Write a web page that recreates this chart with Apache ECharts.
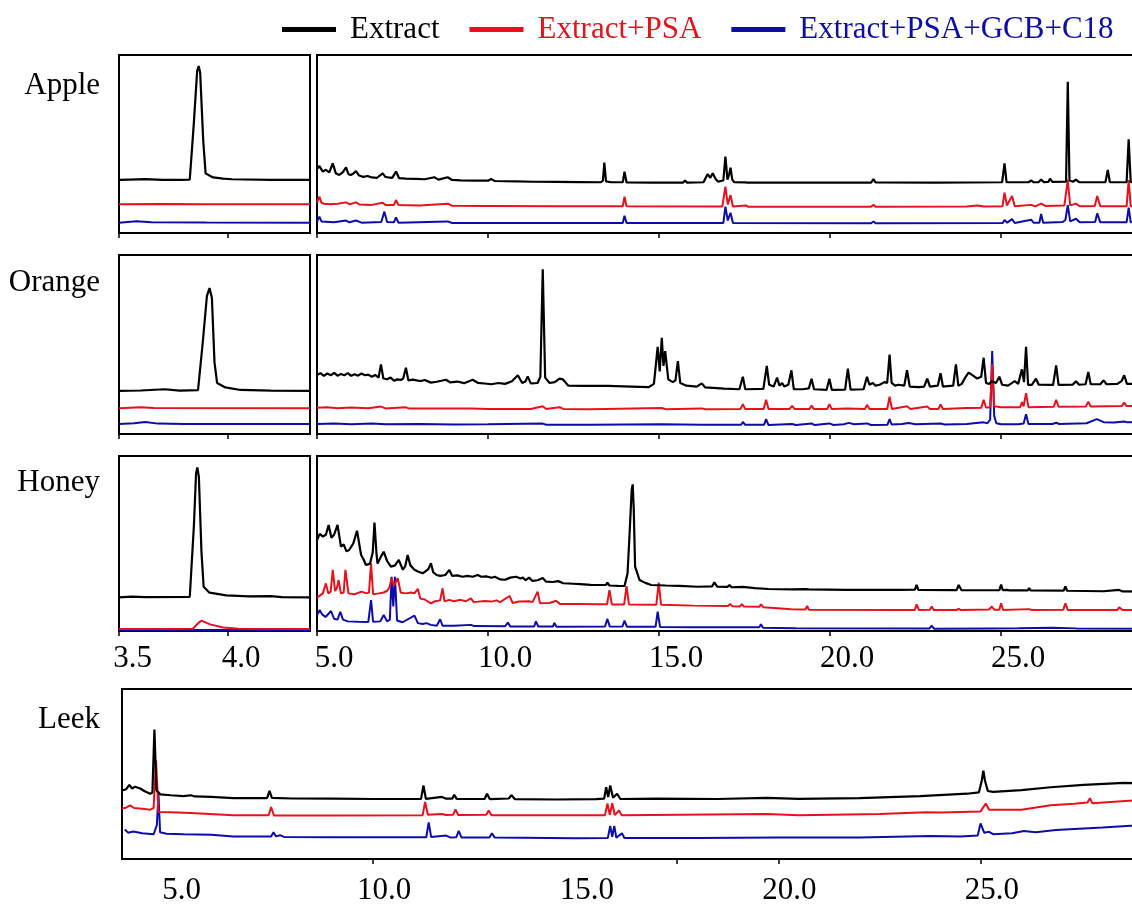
<!DOCTYPE html>
<html>
<head>
<meta charset="utf-8">
<script src="https://cdn.jsdelivr.net/npm/echarts@6/dist/echarts.min.js"></script>
<style>
html,body{margin:0;padding:0;background:#fff;overflow:hidden;}
#chart{width:1170px;height:906px;}
</style>
</head>
<body>
<div id="chart"></div>
<script>
// ---------- names / ticks ----------
const seriesNames = ['Extract', 'Extract+PSA', 'Extract+PSA+GCB+C18'];
const sampleNames = ['Apple', 'Orange', 'Honey', 'Leek'];
const leftTickValues = [3.5, 4.0];
const mainTickValues = [5, 10, 15, 20, 25];
const leekLabelValues = [5, 10, 15, 20, 25];
const leekTickValues = [10, 17.5, 20, 25];

// ---------- Apple ----------
const appleLeftExtract = [[3.5,29.8],[3.55,30.0],[3.62,30.3],[3.7,29.9],[3.78,29.9],[3.826,30.0],[3.845,62],[3.860,91],[3.867,93.8],[3.874,90],[3.888,52],[3.899,33.5],[3.933,31.2],[3.98,30.5],[4.02,30.2],[4.2,29.9],[4.38,29.8]];
const appleLeftPSA = [[3.5,16.1],[3.7,16.3],[3.9,16.1],[4.38,16.1]];
const appleLeftGCB = [[3.5,5.8],[3.58,6.6],[3.65,6.0],[3.9,5.9],[4.38,5.8]];

const appleMainExtract = [[5.0,36.0],[5.07,37.6],[5.17,34.5],[5.26,35.5],[5.36,34.0],[5.46,39.1],[5.55,33.5],[5.65,32.6],[5.75,34.0],[5.85,36.9],[5.92,33.0],[5.99,32.6],[6.07,33.5],[6.14,34.8],[6.22,32.5],[6.35,31.5],[6.48,32.0],[6.6,31.2],[6.75,31.0],[6.92,33.5],[7.0,31.5],[7.07,31.3],[7.2,31.0],[7.31,34.5],[7.4,30.8],[7.6,30.6],[7.9,30.4],[8.15,30.2],[8.43,31.3],[8.55,30.0],[8.82,31.3],[8.95,29.8],[9.2,29.6],[9.6,29.4],[10.0,29.4],[10.09,30.3],[10.2,29.2],[10.8,29.0],[11.35,28.8],[12.0,28.7],[12.7,28.6],[13.3,28.5],[13.36,29.5],[13.40,39.5],[13.45,29.0],[13.6,28.5],[13.94,28.5],[13.99,34.4],[14.05,28.4],[14.8,28.3],[15.7,28.3],[15.76,29.5],[15.82,28.3],[16.3,28.5],[16.42,33.1],[16.5,31.0],[16.57,33.6],[16.65,30.5],[16.72,28.9],[16.88,29.5],[16.94,42.9],[17.0,30.0],[17.05,33.0],[17.09,36.7],[17.14,30.0],[17.20,28.5],[17.5,28.4],[17.54,29.5],[17.6,28.3],[19.6,28.3],[19.64,29.2],[19.7,28.3],[21.2,28.3],[21.27,30.3],[21.33,28.4],[23.0,28.3],[23.05,29.2],[23.1,28.3],[25.03,28.5],[25.10,39.1],[25.16,28.5],[25.8,28.5],[25.88,29.5],[25.95,28.5],[26.1,28.6],[26.17,30.0],[26.25,28.6],[26.38,28.7],[26.43,30.5],[26.5,28.7],[26.9,28.8],[26.95,85.0],[27.0,29.5],[27.1,28.8],[27.19,30.0],[27.28,28.6],[28.05,28.5],[28.12,35.4],[28.18,28.5],[28.67,28.6],[28.73,52.6],[28.79,28.6],[29.5,28.4]];
const appleMainPSA = [[5.0,17.0],[5.07,20.4],[5.13,17.0],[5.2,16.5],[5.4,16.2],[5.6,16.4],[5.85,17.2],[5.95,16.2],[6.14,17.2],[6.25,16.0],[6.6,15.8],[6.92,17.0],[7.0,15.8],[7.25,15.8],[7.31,18.5],[7.38,15.8],[8.0,15.5],[8.82,16.5],[8.95,15.3],[10.0,15.2],[12.0,15.0],[13.94,15.0],[13.99,20.4],[14.05,15.0],[16.85,14.9],[16.94,26.0],[17.01,16.0],[17.09,21.3],[17.16,14.9],[17.54,15.5],[17.6,14.8],[21.2,14.8],[21.27,15.8],[21.33,14.8],[24.0,14.9],[24.3,15.5],[24.5,14.9],[25.04,15.0],[25.10,22.7],[25.17,15.5],[25.32,20.8],[25.40,15.0],[25.88,15.8],[26.0,15.0],[26.17,16.5],[26.3,15.2],[26.85,15.5],[26.95,29.8],[27.02,15.5],[27.19,16.5],[27.3,15.0],[27.74,15.2],[27.81,20.8],[27.9,15.0],[28.67,15.0],[28.73,29.8],[28.79,15.0],[29.5,14.8]];
const appleMainGCB = [[5.0,6.5],[5.07,9.2],[5.13,6.5],[5.5,6.0],[5.85,7.0],[5.95,6.0],[6.14,7.0],[6.3,5.8],[6.88,6.2],[6.97,12.0],[7.05,6.2],[7.25,6.0],[7.31,8.8],[7.38,5.8],[8.82,6.5],[8.95,5.6],[13.94,5.6],[13.99,9.7],[14.05,5.6],[16.88,5.6],[16.94,14.8],[17.01,7.0],[17.09,11.4],[17.16,5.6],[21.2,5.5],[21.27,6.5],[21.33,5.5],[25.05,5.6],[25.10,7.3],[25.18,5.8],[25.32,7.8],[25.40,5.6],[25.88,7.5],[25.95,5.8],[26.12,5.8],[26.17,10.7],[26.23,5.8],[26.8,6.2],[26.88,7.3],[26.95,15.7],[27.02,6.5],[27.19,8.0],[27.3,6.0],[27.75,6.2],[27.81,11.0],[27.9,6.0],[28.67,6.0],[28.73,14.2],[28.79,6.0],[29.5,5.6]];

// ---------- Orange ----------
const orangeLeftExtract = [[3.5,24.1],[3.6,24.3],[3.71,25.0],[3.78,24.2],[3.864,24.5],[3.885,50],[3.905,77],[3.917,81.5],[3.928,76],[3.94,40],[3.952,28.5],[3.99,26.0],[4.06,24.6],[4.2,24.2],[4.38,24.1]];
const orangeLeftPSA = [[3.5,14.4],[3.6,15.0],[3.66,14.5],[4.38,14.4]];
const orangeLeftGCB = [[3.5,5.6],[3.57,6.0],[3.62,6.7],[3.68,5.8],[3.8,5.6],[4.38,5.6]];

const orangeMainExtract = [[5.0,33.0],[5.1,34.0],[5.2,32.5],[5.3,33.8],[5.4,32.8],[5.5,34.2],[5.6,32.6],[5.7,33.5],[5.8,32.8],[5.9,34.0],[6.0,32.5],[6.1,33.4],[6.2,32.6],[6.3,33.8],[6.4,32.8],[6.5,33.2],[6.6,32.0],[6.7,33.0],[6.8,31.5],[6.87,38.9],[6.94,31.0],[7.05,30.6],[7.15,31.5],[7.25,29.8],[7.35,30.5],[7.45,30.2],[7.52,31.0],[7.60,37.0],[7.67,30.0],[7.8,30.4],[7.95,29.8],[8.04,29.6],[8.15,30.2],[8.33,28.7],[8.5,29.2],[8.77,30.3],[8.9,28.8],[9.1,29.3],[9.3,28.4],[9.55,30.3],[9.7,28.6],[9.9,28.2],[10.1,27.8],[10.3,28.5],[10.5,28.0],[10.7,29.5],[10.87,32.8],[11.0,28.5],[11.1,29.5],[11.16,32.2],[11.25,28.3],[11.45,28.5],[11.53,32.0],[11.60,92.0],[11.67,31.5],[11.8,28.5],[11.95,29.0],[12.09,30.9],[12.14,29.8],[12.19,30.5],[12.35,27.0],[12.8,26.9],[13.5,26.9],[14.2,26.5],[14.7,26.2],[14.85,28.0],[14.96,48.7],[15.02,35.0],[15.08,53.7],[15.13,38.0],[15.18,46.3],[15.27,30.5],[15.4,29.0],[15.48,30.0],[15.55,40.7],[15.62,28.5],[15.8,27.0],[16.1,26.5],[16.25,28.3],[16.35,26.0],[16.8,25.5],[16.85,26.5],[16.9,25.3],[17.35,25.0],[17.45,32.0],[17.52,25.0],[18.05,25.2],[18.15,38.0],[18.22,27.5],[18.35,26.5],[18.45,31.5],[18.52,27.0],[18.6,28.5],[18.66,26.5],[18.78,27.5],[18.87,35.6],[18.94,25.0],[19.2,25.0],[19.38,25.5],[19.46,30.9],[19.53,25.0],[19.9,24.7],[19.98,30.9],[20.05,24.7],[20.44,24.8],[20.52,36.5],[20.6,24.8],[20.98,25.0],[21.08,32.0],[21.15,27.5],[21.25,28.5],[21.33,27.0],[21.45,27.5],[21.59,29.0],[21.67,28.5],[21.74,44.4],[21.8,28.5],[21.9,27.0],[22.0,27.5],[22.17,27.0],[22.25,35.6],[22.33,26.5],[22.6,26.2],[22.75,26.5],[22.84,30.9],[22.92,26.5],[23.15,27.0],[23.23,33.9],[23.3,26.5],[23.45,26.8],[23.6,27.0],[23.68,38.9],[23.75,27.0],[23.85,28.0],[23.95,31.5],[24.05,34.3],[24.15,33.0],[24.3,31.0],[24.42,32.0],[24.49,42.6],[24.56,28.5],[24.65,28.0],[24.74,29.5],[24.85,28.5],[24.95,32.0],[25.03,27.5],[25.2,27.0],[25.4,29.5],[25.5,28.0],[25.61,36.1],[25.67,29.0],[25.73,48.7],[25.79,27.5],[25.9,27.5],[26.02,30.9],[26.1,27.5],[26.52,27.4],[26.61,38.3],[26.68,27.4],[27.1,27.6],[27.19,29.5],[27.28,27.5],[27.47,27.8],[27.55,34.6],[27.62,27.8],[27.9,27.8],[28.0,30.0],[28.08,27.8],[28.4,28.0],[28.52,29.5],[28.6,32.8],[28.68,28.0],[29.5,28.0]];
const orangeMainPSA = [[5.0,14.6],[5.3,15.0],[5.6,14.4],[6.0,14.8],[6.5,14.4],[6.87,15.3],[7.0,14.3],[7.6,14.9],[7.7,14.2],[8.5,14.3],[9.5,14.2],[10.0,14.0],[11.25,14.0],[11.6,15.5],[11.7,14.0],[12.09,15.0],[12.2,14.0],[13.0,13.8],[15.08,14.5],[15.2,13.8],[16.25,14.3],[16.35,13.8],[17.38,13.9],[17.45,16.7],[17.52,13.9],[18.06,14.0],[18.13,19.1],[18.2,14.0],[18.82,14.0],[18.89,15.7],[18.96,14.0],[19.40,14.0],[19.46,15.9],[19.52,14.0],[19.92,14.0],[19.98,16.7],[20.05,13.9],[20.5,14.2],[21.02,14.0],[21.08,16.3],[21.15,14.0],[21.67,14.0],[21.74,20.9],[21.81,14.0],[22.25,15.5],[22.35,14.0],[22.84,15.3],[22.92,14.0],[23.17,14.0],[23.23,16.5],[23.3,14.0],[24.0,14.5],[24.05,15.5],[24.15,14.5],[24.42,14.6],[24.49,19.1],[24.56,14.8],[24.68,15.0],[24.74,38.9],[24.80,15.5],[25.0,15.0],[25.56,15.0],[25.61,17.8],[25.66,15.5],[25.73,22.8],[25.8,15.0],[26.54,15.2],[26.61,19.1],[26.68,15.2],[27.48,15.4],[27.55,18.1],[27.62,15.4],[28.53,15.6],[28.60,17.5],[28.67,15.6],[29.5,15.7]];
const orangeMainGCB = [[5.0,5.6],[5.5,5.9],[6.0,5.5],[6.6,5.8],[7.0,5.4],[8.0,5.6],[9.0,5.3],[10.0,5.4],[11.6,5.8],[11.7,5.2],[13.0,5.2],[15.1,5.4],[16.25,5.2],[17.4,5.2],[17.45,6.7],[17.52,5.1],[18.07,5.1],[18.13,8.3],[18.2,5.0],[18.89,5.6],[19.0,5.0],[19.46,5.9],[19.55,5.0],[19.98,5.9],[20.1,5.0],[20.4,5.5],[20.55,6.2],[20.7,5.5],[21.08,5.9],[21.2,5.0],[21.68,5.2],[21.74,8.3],[21.8,5.3],[22.1,5.6],[22.3,6.2],[22.5,5.4],[23.23,5.9],[23.35,5.3],[24.0,5.6],[24.2,6.0],[24.49,6.5],[24.6,6.0],[24.68,8.0],[24.74,46.3],[24.80,10.0],[24.86,6.0],[25.0,5.5],[25.5,5.5],[25.66,5.8],[25.73,11.1],[25.8,5.6],[26.5,5.6],[26.61,6.3],[26.7,5.6],[27.5,6.0],[27.8,8.3],[28.0,6.6],[28.3,6.4],[28.6,7.0],[28.7,6.5],[29.5,6.9]];

// ---------- Honey ----------
const honeyLeftExtract = [[3.5,19.2],[3.56,19.6],[3.62,19.4],[3.826,19.5],[3.845,60],[3.855,90],[3.861,93.5],[3.868,88],[3.88,45],[3.89,25.3],[3.917,21.9],[3.994,20.4],[4.1,19.8],[4.2,19.9],[4.25,19.4],[4.38,19.2]];
const honeyLeftPSA = [[3.5,1.1],[3.84,1.3],[3.865,4.5],[3.879,5.9],[3.92,3.8],[3.98,2.0],[4.05,1.3],[4.38,1.1]];
const honeyLeftGCB = [[3.5,0.6],[4.38,0.6]];

const honeyMainExtract = [[5.0,52.0],[5.08,55.5],[5.17,53.9],[5.26,55.0],[5.34,60.6],[5.42,53.3],[5.50,55.0],[5.60,60.6],[5.70,48.2],[5.78,49.5],[5.86,45.5],[5.94,46.3],[6.06,50.0],[6.17,57.3],[6.29,43.4],[6.36,41.0],[6.43,37.7],[6.55,38.5],[6.63,45.0],[6.68,61.9],[6.74,44.0],[6.77,38.5],[6.87,42.5],[6.95,45.3],[7.05,40.0],[7.16,36.8],[7.28,37.5],[7.39,40.6],[7.51,35.0],[7.58,37.0],[7.65,43.4],[7.73,37.5],[7.85,35.0],[7.95,34.0],[8.09,33.0],[8.2,34.5],[8.26,35.5],[8.33,38.7],[8.40,33.5],[8.5,32.0],[8.6,31.5],[8.75,32.0],[8.87,34.9],[8.95,31.5],[9.1,31.8],[9.25,31.0],[9.4,31.5],[9.55,31.0],[9.70,32.0],[9.8,31.0],[9.95,31.2],[10.1,30.4],[10.2,31.0],[10.35,29.5],[10.5,29.3],[10.65,30.5],[10.82,31.0],[10.95,30.0],[11.02,30.5],[11.1,29.0],[11.2,30.5],[11.3,28.6],[11.45,29.0],[11.60,30.3],[11.7,28.2],[11.9,28.0],[12.05,28.5],[12.2,27.3],[12.5,27.0],[12.7,26.8],[13.0,26.4],[13.3,26.3],[13.45,26.4],[13.49,27.6],[13.55,26.0],[13.8,25.8],[13.99,25.7],[14.08,33.0],[14.15,60.0],[14.20,80.6],[14.23,83.8],[14.26,70.0],[14.30,36.8],[14.43,29.1],[14.6,27.5],[14.77,26.3],[15.2,26.0],[15.6,25.8],[16.13,25.3],[16.55,25.5],[16.62,27.8],[16.7,25.3],[17.0,25.2],[17.06,26.3],[17.12,25.0],[17.45,25.2],[17.8,24.5],[18.2,24.0],[18.86,23.8],[19.28,23.9],[19.33,25.0],[19.38,23.8],[20.5,23.5],[22.0,23.5],[22.48,23.6],[22.53,26.3],[22.58,23.5],[23.7,23.4],[23.76,26.3],[23.84,23.4],[24.95,23.3],[25.0,26.5],[25.05,23.3],[25.15,23.5],[25.2,24.5],[25.25,23.2],[25.78,23.2],[25.82,24.5],[25.86,23.2],[26.83,23.1],[26.88,25.5],[26.93,23.0],[28.0,22.7],[28.45,23.5],[28.55,22.6],[29.5,22.5]];
const honeyMainPSA = [[5.0,19.0],[5.17,21.5],[5.26,27.2],[5.33,21.5],[5.40,22.5],[5.46,34.9],[5.53,22.8],[5.58,24.5],[5.63,29.1],[5.70,21.5],[5.78,22.0],[5.83,34.9],[5.92,21.5],[6.1,21.0],[6.3,22.5],[6.45,21.5],[6.52,22.0],[6.58,38.7],[6.64,21.0],[6.8,21.5],[6.95,22.0],[7.05,23.0],[7.12,25.0],[7.18,30.1],[7.25,26.0],[7.30,25.5],[7.36,30.1],[7.45,21.8],[7.6,21.5],[7.75,22.0],[7.85,21.6],[7.95,24.0],[8.02,18.5],[8.15,18.0],[8.33,15.8],[8.45,17.0],[8.6,17.5],[8.67,24.4],[8.73,17.0],[8.87,17.8],[9.0,17.0],[9.2,17.8],[9.35,17.0],[9.50,18.7],[9.58,16.5],[9.9,17.2],[10.1,16.8],[10.25,17.5],[10.35,16.5],[10.63,20.0],[10.72,16.0],[10.9,16.8],[11.2,17.0],[11.3,16.5],[11.45,22.5],[11.52,15.8],[11.8,16.0],[11.99,17.3],[12.1,15.5],[12.6,15.5],[13.2,15.3],[13.48,15.3],[13.55,23.4],[13.62,15.2],[13.98,15.2],[14.05,25.7],[14.12,15.2],[14.92,15.0],[14.99,27.6],[15.06,15.0],[16.0,14.5],[17.02,14.3],[17.08,15.5],[17.14,14.2],[17.36,14.0],[17.42,15.4],[17.48,14.0],[17.93,13.8],[17.98,15.2],[18.05,13.6],[18.86,12.4],[19.28,12.3],[19.33,14.3],[19.38,12.2],[22.0,12.0],[22.48,12.0],[22.53,15.2],[22.6,12.0],[22.92,12.1],[22.97,14.0],[23.03,12.0],[23.7,12.0],[23.76,12.6],[23.82,12.0],[24.65,12.3],[24.73,14.0],[24.8,12.2],[24.95,12.2],[25.0,15.8],[25.06,12.0],[25.82,12.5],[25.9,12.0],[26.82,12.2],[26.88,15.8],[26.95,12.0],[28.4,12.0],[28.45,13.5],[28.55,12.0],[29.5,12.0]];
const honeyMainGCB = [[5.0,9.0],[5.08,12.0],[5.15,9.5],[5.25,8.0],[5.41,11.4],[5.5,7.0],[5.60,6.5],[5.68,11.0],[5.76,6.5],[5.9,5.5],[6.2,5.3],[6.5,5.2],[6.58,17.7],[6.64,5.3],[6.85,5.5],[6.95,9.1],[7.05,5.5],[7.13,6.5],[7.18,31.0],[7.23,14.0],[7.28,31.0],[7.34,6.0],[7.5,5.0],[7.85,8.8],[7.95,4.5],[8.09,4.0],[8.2,4.5],[8.33,3.5],[8.5,3.0],[8.60,6.7],[8.67,3.0],[9.0,3.0],[9.5,3.5],[9.6,2.8],[10.5,2.7],[10.58,4.8],[10.65,2.6],[11.35,2.6],[11.40,5.5],[11.47,2.6],[11.9,2.6],[11.94,4.6],[12.0,2.5],[13.42,2.6],[13.49,6.9],[13.56,2.5],[13.93,2.6],[13.99,5.9],[14.06,2.5],[14.90,2.5],[14.96,11.0],[15.03,2.3],[16.0,2.2],[17.93,2.1],[17.98,3.8],[18.04,1.8],[19.0,1.6],[22.9,1.4],[22.97,3.0],[23.04,1.3],[24.7,1.5],[25.5,1.6],[26.5,1.8],[27.2,1.5],[29.5,1.3]];

// ---------- Leek ----------
const leekExtract = [[3.8,40.3],[3.9,41.0],[3.98,43.6],[4.05,41.5],[4.12,42.5],[4.25,41.5],[4.35,40.0],[4.49,38.4],[4.55,39.0],[4.60,76.2],[4.65,40.5],[4.75,38.0],[5.0,37.5],[5.32,37.0],[5.5,37.5],[5.6,36.8],[6.0,36.5],[6.55,35.8],[7.0,35.8],[7.38,35.8],[7.44,40.1],[7.50,36.0],[8.0,35.6],[9.02,35.5],[10.0,35.3],[11.18,35.3],[11.24,43.2],[11.30,35.4],[11.70,36.5],[11.8,35.5],[11.95,35.5],[12.0,37.8],[12.06,35.4],[12.75,35.3],[12.81,38.4],[12.88,35.2],[13.35,35.6],[13.41,37.6],[13.5,35.2],[14.5,35.0],[15.5,35.2],[15.7,35.5],[15.75,42.2],[15.80,36.5],[15.85,43.2],[15.92,36.0],[16.02,38.4],[16.1,35.3],[17.0,35.5],[18.5,35.3],[19.72,36.0],[20.5,35.4],[22.0,35.8],[23.5,37.0],[24.66,38.4],[24.95,39.2],[25.02,46.0],[25.06,51.9],[25.10,46.0],[25.17,40.0],[25.3,39.5],[26.0,40.5],[26.72,42.2],[27.54,43.6],[28.53,44.8],[29.0,44.5]];
const leekPSA = [[3.8,29.7],[3.9,30.2],[4.0,31.5],[4.1,30.0],[4.3,29.5],[4.5,29.0],[4.58,30.0],[4.64,58.1],[4.70,27.7],[5.0,27.5],[5.5,27.0],[6.55,25.7],[7.42,25.7],[7.48,30.6],[7.55,25.6],[9.0,25.6],[11.22,25.7],[11.28,33.5],[11.35,26.0],[11.70,26.5],[11.8,25.9],[11.97,26.0],[12.03,29.1],[12.1,25.9],[12.79,26.0],[12.85,28.5],[12.92,25.7],[15.72,25.7],[15.78,32.6],[15.84,26.0],[15.90,32.8],[15.96,25.9],[16.07,28.5],[16.13,25.8],[19.72,26.5],[20.5,25.8],[22.5,26.5],[23.65,27.5],[24.0,27.3],[24.99,28.0],[25.12,32.6],[25.2,29.0],[26.0,29.0],[26.72,31.6],[27.3,32.5],[27.63,33.2],[27.69,35.8],[27.75,32.8],[28.75,34.4],[29.0,34.5]];
const leekGCB = [[3.87,17.4],[3.95,15.5],[4.08,16.2],[4.3,15.2],[4.58,14.5],[4.66,20.0],[4.70,38.4],[4.74,15.7],[4.9,14.8],[5.32,14.5],[6.0,14.2],[6.55,13.2],[7.48,13.3],[7.54,15.7],[7.6,13.3],[7.7,14.0],[7.8,13.0],[9.0,12.8],[11.31,12.8],[11.37,21.5],[11.43,13.0],[11.8,13.8],[11.9,12.7],[12.05,12.8],[12.11,16.5],[12.18,12.6],[12.87,12.7],[12.93,15.1],[13.0,12.6],[15.0,12.2],[15.79,12.3],[15.85,19.4],[15.90,13.0],[15.95,19.5],[16.0,12.6],[16.14,15.1],[16.2,12.4],[18.0,12.4],[20.0,12.6],[22.0,12.6],[23.75,13.5],[24.5,13.2],[24.92,13.8],[24.99,20.9],[25.08,15.5],[25.20,16.0],[25.3,14.6],[25.77,15.2],[26.06,16.5],[26.35,15.8],[26.85,17.0],[28.0,18.5],[29.0,20.0]];

// ---------- build ----------
const FONT = 'Liberation Serif, Times New Roman, serif';
const colors = ['#000000', '#e8101c', '#0c0ca8'];
const widths = [2.2, 2, 2];

const panels = [
  {l:119, t:55,  w:191, h:178, min:3.5, max:4.38, ticks:leftTickValues, labels:null, traces:[appleLeftExtract, appleLeftPSA, appleLeftGCB]},
  {l:317, t:55,  w:838, h:178, min:5,   max:29.5, ticks:mainTickValues, labels:null, traces:[appleMainExtract, appleMainPSA, appleMainGCB]},
  {l:119, t:255, w:191, h:179, min:3.5, max:4.38, ticks:leftTickValues, labels:null, traces:[orangeLeftExtract, orangeLeftPSA, orangeLeftGCB]},
  {l:317, t:255, w:838, h:179, min:5,   max:29.5, ticks:mainTickValues, labels:null, traces:[orangeMainExtract, orangeMainPSA, orangeMainGCB]},
  {l:119, t:456, w:191, h:175, min:3.5, max:4.38, ticks:leftTickValues, labels:leftTickValues, pad:27, margin:12, traces:[honeyLeftExtract, honeyLeftPSA, honeyLeftGCB]},
  {l:317, t:456, w:838, h:175, min:5,   max:29.5, ticks:mainTickValues, labels:mainTickValues, pad:34, margin:12, traces:[honeyMainExtract, honeyMainPSA, honeyMainGCB]},
  {l:122, t:689, w:1021, h:172, min:3.8, max:29.0, ticks:leekTickValues, labels:leekLabelValues, pad:22, margin:16, traces:[leekExtract, leekPSA, leekGCB]}
];

const grid = [], xAxis = [], yAxis = [], series = [];
panels.forEach((p, i) => {
  grid.push({left:p.l, top:p.t, width:p.w, height:p.h, show:true, borderColor:'#000', borderWidth:2, backgroundColor:'transparent', containLabel:false});
  xAxis.push({
    type:'value', gridIndex:i, min:p.min, max:p.max,
    axisLine:{show:false},
    splitLine:{show:false},
    axisTick:{show:true, inside:false, length:5, customValues:p.ticks, lineStyle:{color:'#000', width:1.5}},
    axisLabel: p.labels ? {show:true, customValues:p.labels, margin:p.margin, padding:[0,0,0,p.pad],
      fontFamily:FONT, fontSize:31, color:'#000', formatter:v => v.toFixed(1)} : {show:false}
  });
  yAxis.push({type:'value', gridIndex:i, min:0, max:100, show:false});
  [2,1,0].forEach(k => {
    series.push({
      name: seriesNames[k], type:'line', xAxisIndex:i, yAxisIndex:i,
      data: p.traces[k], showSymbol:false, symbol:'none', animation:false,
      lineStyle:{color:colors[k], width:widths[k]}, itemStyle:{color:colors[k]}
    });
  });
});

const labelTops = [70, 267, 467, 704];
const title = sampleNames.map((n, i) => ({
  text:n, left:100, top:labelTops[i], textAlign:'right', padding:0,
  textStyle:{fontFamily:FONT, fontSize:31, fontWeight:'normal', color:'#000'}
}));

const option = {
  backgroundColor:'#fff',
  animation:false,
  title,
  legend:{
    left:282, top:14, padding:0, itemWidth:54, itemHeight:5, itemGap:30, icon:'rect',
    data: seriesNames.map((n, k) => ({name:n, textStyle:{color:colors[k]}})),
    textStyle:{fontFamily:FONT, fontSize:31, padding:[0,0,0,9]},
    selectedMode:false
  },
  grid, xAxis, yAxis, series
};

const chart = echarts.init(document.getElementById('chart'), null, {renderer:'canvas'});
chart.setOption(option);
</script>
</body>
</html>
